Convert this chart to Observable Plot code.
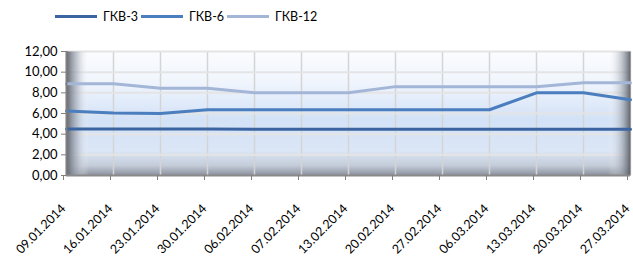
<!DOCTYPE html>
<html><head><meta charset="utf-8">
<script src="https://cdn.jsdelivr.net/npm/d3@7"></script>
<script src="https://cdn.jsdelivr.net/npm/@observablehq/plot@0.6"></script>
<style>
body{margin:0;background:#fff;font-family:Lato,"Open Sans",sans-serif;}
#legend{height:36px;position:relative;font-size:12.5px;color:#000;}
.item{position:absolute;top:9px;display:flex;align-items:center;}
.sw{width:42px;height:3px;margin-right:6px;}
</style></head><body>
<div id="legend"></div>
<div id="chart"></div>
<script>
const dates = ["09.01.2014","16.01.2014","23.01.2014","30.01.2014","06.02.2014","07.02.2014","13.02.2014","20.02.2014","27.02.2014","06.03.2014","13.03.2014","20.03.2014","27.03.2014"];
const gkv3  = [4.50,4.50,4.50,4.50,4.48,4.48,4.48,4.48,4.48,4.48,4.48,4.48,4.48];
const gkv6  = [6.25,6.05,6.00,6.36,6.36,6.36,6.36,6.36,6.36,6.36,8.00,8.00,7.33];
const gkv12 = [8.87,8.87,8.45,8.45,8.00,8.00,8.00,8.60,8.60,8.60,8.60,8.97,8.97];
const seriesNames = ["ГКВ-3","ГКВ-6","ГКВ-12"];
const colors = ["#3b64a0","#4a7ebf","#a3b6d8"];
const yTicks = [0,2,4,6,8,10,12];

const rows = [];
[gkv3,gkv6,gkv12].forEach((arr,i)=>arr.forEach((v,j)=>rows.push({s:seriesNames[i],d:dates[j],v})));

const legend = document.getElementById("legend");
const lx = [55,141,227];
seriesNames.forEach((n,i)=>{
  const it=document.createElement("div");it.className="item";it.style.left=lx[i]+"px";
  it.innerHTML=`<span class="sw" style="background:${colors[i]}"></span><span>${n}</span>`;
  legend.appendChild(it);
});

const fmt = d=>d.toFixed(2).replace(".",",");
const plot = Plot.plot({
  width:633,height:225,
  marginTop:15,marginBottom:86,marginLeft:66,marginRight:3,
  style:{fontFamily:"Lato, 'Open Sans', sans-serif",fontSize:"13px",color:"#000",background:"#fff"},
  x:{type:"point",domain:dates,padding:0,label:null},
  y:{domain:[0,12],ticks:yTicks,label:null},
  color:{domain:seriesNames,range:colors},
  marks:[
    Plot.frame({fill:"url(#bg)",stroke:null}),
    Plot.gridX(dates,{stroke:"#d4d4d4",strokeOpacity:1,strokeWidth:1.5}),
    Plot.gridY(yTicks.slice(1),{stroke:"#e4e4e4",strokeOpacity:1,strokeWidth:2}),
    Plot.frame({fill:"url(#lw)",stroke:null}),
    Plot.lineY(rows,{x:"d",y:"v",z:"s",stroke:"s",strokeWidth:3,curve:"linear"}),
    Plot.ruleX([dates[0]],{stroke:"#7f7f7f",strokeWidth:2}),
    Plot.ruleY([0],{stroke:"#8a8a8a",strokeWidth:2}),
    Plot.axisY({ticks:yTicks,tickFormat:fmt,tickSize:5,tickPadding:4,stroke:"#7f7f7f",label:null}),
    Plot.axisX({tickSize:5,tickRotate:-45,tickPadding:26,dx:-3,stroke:"#7f7f7f",fontSize:"12.5px",label:null})
  ]
});
const svg = d3.select(plot);
const defs = svg.insert("defs",":first-child");
const g = defs.append("linearGradient").attr("id","bg").attr("x1",0).attr("x2",0).attr("y1",0).attr("y2",1);
[[0,"#fbfcfe"],[0.25,"#f0f5fd"],[0.55,"#d3e2f7"],[0.8,"#dbe6f6"],[0.92,"#c4ccd9"],[1,"#8a909c"]].forEach(([o,c])=>g.append("stop").attr("offset",o).attr("stop-color",c));
const w = defs.append("linearGradient").attr("id","lw").attr("x1",0).attr("x2",1).attr("y1",0).attr("y2",0);
[[0,"#62666f",1],[0.02,"#a9b0bc",0.6],[0.04,"#ffffff",0],[0.96,"#ffffff",0],[0.985,"#9aa0aa",0.6],[1,"#50545c",0.9]].forEach(([o,c,a])=>w.append("stop").attr("offset",o).attr("stop-color",c).attr("stop-opacity",a));
document.getElementById("chart").appendChild(plot);
</script></body></html>
